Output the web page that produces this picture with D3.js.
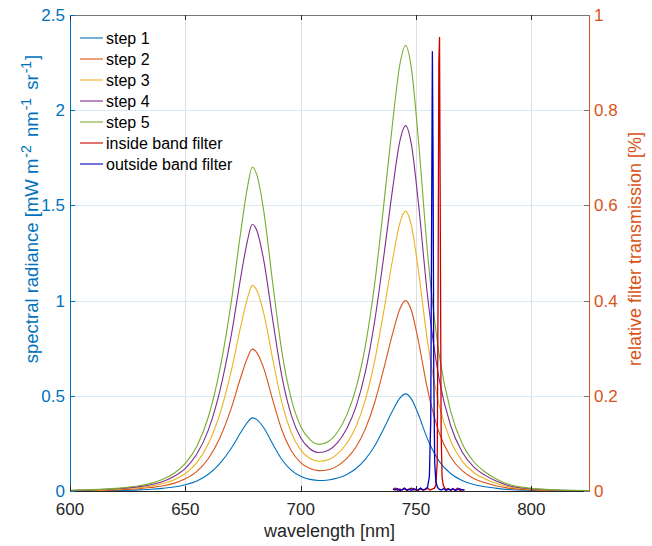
<!DOCTYPE html>
<html><head><meta charset="utf-8">
<script src="https://cdn.jsdelivr.net/npm/d3@7"></script>
<style>body{margin:0;background:#fff}svg{display:block}text{font-family:"Liberation Sans",Arial,Helvetica,sans-serif}</style>
</head><body><svg id="c" width="652" height="546"></svg>
<script>
const wavelength = [600,610,620,630,635,640,645,650,655,660,665,670,674,677,679,681,684,688,692,696,700,704,708,712,716,720,724,728,732,736,740,743,745.5,748,751,755,760,765,770,775,780,785,790,800,810,825];
const step1 = [0.001,0.002,0.003,0.006,0.009,0.014,0.021,0.033,0.053,0.088,0.145,0.226,0.307,0.362,0.384,0.375,0.332,0.244,0.163,0.108,0.077,0.061,0.055,0.058,0.068,0.087,0.118,0.166,0.235,0.327,0.425,0.488,0.510,0.484,0.403,0.273,0.157,0.092,0.055,0.034,0.022,0.014,0.008,0.003,0.001,0.000];
const step2 = [0.002,0.003,0.006,0.012,0.018,0.026,0.040,0.064,0.103,0.171,0.280,0.438,0.596,0.701,0.745,0.727,0.644,0.473,0.315,0.210,0.149,0.118,0.107,0.112,0.132,0.171,0.231,0.325,0.461,0.641,0.833,0.956,1.000,0.948,0.790,0.534,0.307,0.179,0.107,0.066,0.043,0.026,0.015,0.006,0.003,0.001];
const step3 = [0.003,0.004,0.009,0.018,0.025,0.038,0.058,0.092,0.149,0.248,0.406,0.635,0.864,1.016,1.080,1.054,0.933,0.686,0.457,0.305,0.216,0.171,0.156,0.164,0.195,0.251,0.339,0.477,0.678,0.942,1.225,1.407,1.470,1.394,1.162,0.785,0.452,0.264,0.157,0.097,0.063,0.039,0.022,0.009,0.004,0.001];
const step4 = [0.003,0.006,0.012,0.023,0.033,0.049,0.076,0.119,0.194,0.321,0.527,0.824,1.121,1.318,1.401,1.368,1.211,0.890,0.593,0.396,0.280,0.222,0.202,0.214,0.254,0.328,0.443,0.623,0.886,1.230,1.599,1.837,1.919,1.820,1.517,1.025,0.590,0.344,0.205,0.127,0.082,0.051,0.029,0.011,0.005,0.002];
const step5 = [0.004,0.007,0.014,0.028,0.040,0.060,0.092,0.145,0.235,0.390,0.640,1.000,1.360,1.600,1.700,1.660,1.470,1.080,0.720,0.480,0.340,0.270,0.245,0.260,0.310,0.400,0.540,0.760,1.080,1.500,1.950,2.240,2.340,2.220,1.850,1.250,0.720,0.420,0.250,0.155,0.100,0.062,0.035,0.014,0.006,0.002];
const insideWl = [740,741,742,743,744,745,746,747,748,749,750,751,752,753,754,755,756,757,758,758.6,759.2,759.6,759.9,760.2,760.5,760.9,761.3,761.8,762.5,763,764,765,766,767,768,769,770,771];
const insideT = [0.003,0.006,0.001,0.004,0.002,0.005,0.001,0.003,0.006,0.002,0.004,0.001,0.005,0.002,0.003,0.006,0.002,0.004,0.006,0.012,0.06,0.45,0.90,0.954,0.60,0.12,0.03,0.012,0.006,0.003,0.005,0.001,0.004,0.002,0.006,0.001,0.003,0.002];
const outsideWl = [740,741,742,743,744,745,746,747,748,749,750,751,752,753,754,755,755.8,756.4,756.8,757.1,757.4,757.7,758.1,758.6,759.3,760,761,762,763,764,765,766,767,768,769,770,771];
const outsideT = [0.004,0.002,0.005,0.001,0.003,0.006,0.002,0.004,0.001,0.005,0.002,0.003,0.006,0.002,0.004,0.008,0.03,0.15,0.60,0.924,0.70,0.25,0.06,0.02,0.008,0.004,0.002,0.005,0.001,0.004,0.002,0.005,0.001,0.003,0.005,0.002,0.003];
const seriesNames = ["step 1","step 2","step 3","step 4","step 5","inside band filter","outside band filter"];
const seriesColors = ["#0072BD","#D95319","#EDB120","#7E2F8E","#77AC30","#c80000","#0000c0"];
const xTicks = [600,650,700,750,800];
const yLeftTicks = [0,0.5,1,1.5,2,2.5];
const yRightTicks = [0,0.2,0.4,0.6,0.8,1];

const L=70,R=589,T=15,B=491;
const svg=d3.select("#c");
const x=d3.scaleLinear().domain([600,825]).range([L,R]);
const yL=d3.scaleLinear().domain([0,2.5]).range([B,T]);
const yR=d3.scaleLinear().domain([0,1]).range([B,T]);
const fs=17;

// grid
const g=svg.append("g");
xTicks.slice(1).forEach(v=>g.append("line").attr("x1",Math.round(x(v))+0.5).attr("x2",Math.round(x(v))+0.5).attr("y1",T).attr("y2",B).attr("stroke","#dfdfdf"));
yLeftTicks.slice(1,-1).forEach(v=>g.append("line").attr("x1",L).attr("x2",R).attr("y1",Math.round(yL(v))+0.5).attr("y2",Math.round(yL(v))+0.5).attr("stroke","#d9eaf5"));

// curves
const steps=[step1,step2,step3,step4,step5];
const lineL=d3.line().x(d=>x(d[0])).y(d=>yL(d[1])).curve(d3.curveMonotoneX);
steps.forEach((s,i)=>{
  svg.append("path").attr("d",lineL(wavelength.map((w,j)=>[w,s[j]]))).attr("fill","none").attr("stroke",seriesColors[i]).attr("stroke-width",1.1);
});
const lineR=d3.line().x(d=>x(d[0])).y(d=>yR(d[1]));
svg.append("path").attr("d",lineR(insideWl.map((w,j)=>[w,insideT[j]]))).attr("fill","none").attr("stroke",seriesColors[5]).attr("stroke-width",1.3);
svg.append("path").attr("d",lineR(outsideWl.map((w,j)=>[w,outsideT[j]]))).attr("fill","none").attr("stroke",seriesColors[6]).attr("stroke-width",1.3);

// axes frame
svg.append("line").attr("x1",L).attr("x2",R).attr("y1",T+0.5).attr("y2",T+0.5).attr("stroke","#777");
svg.append("line").attr("x1",L).attr("x2",R+0.5).attr("y1",B+0.5).attr("y2",B+0.5).attr("stroke","#262626");
svg.append("line").attr("x1",L+0.5).attr("x2",L+0.5).attr("y1",T).attr("y2",B+1).attr("stroke","#0072BD");
svg.append("line").attr("x1",R+0.5).attr("x2",R+0.5).attr("y1",T).attr("y2",B+1).attr("stroke","#D95319");

// ticks
xTicks.forEach(v=>{
  const px=Math.round(x(v))+0.5;
  svg.append("line").attr("x1",px).attr("x2",px).attr("y1",B).attr("y2",B-5).attr("stroke","#262626");
  svg.append("line").attr("x1",px).attr("x2",px).attr("y1",T).attr("y2",T+5).attr("stroke","#262626");
  svg.append("text").attr("x",x(v)).attr("y",515).attr("text-anchor","middle").attr("font-size",fs).attr("fill","#262626").text(v);
});
yLeftTicks.forEach(v=>{
  const py=Math.round(yL(v))+0.5;
  svg.append("line").attr("x1",L).attr("x2",L+5).attr("y1",py).attr("y2",py).attr("stroke","#0072BD");
  svg.append("text").attr("x",65).attr("y",yL(v)+6).attr("text-anchor","end").attr("font-size",fs).attr("fill","#0072BD").text(v);
});
yRightTicks.forEach(v=>{
  const py=Math.round(yR(v))+0.5;
  svg.append("line").attr("x1",R).attr("x2",R-5).attr("y1",py).attr("y2",py).attr("stroke","#777");
  svg.append("text").attr("x",594).attr("y",yR(v)+6).attr("text-anchor","start").attr("font-size",fs).attr("fill","#D95319").text(v);
});

// labels
svg.append("text").attr("x",(L+R)/2).attr("y",537).attr("text-anchor","middle").attr("font-size",18).attr("fill","#262626").text("wavelength [nm]");
const yl=svg.append("text").attr("transform","translate(38,209) rotate(-90)").attr("text-anchor","middle").attr("font-size",18.5).attr("fill","#0072BD");
const sup=(t)=>{yl.append("tspan").attr("dx",1).attr("dy",-7).attr("font-size",14).text(t);};
yl.append("tspan").text("spectral radiance [mW m");
sup("-2");
yl.append("tspan").attr("dx",3).attr("dy",7).text(" nm");
sup("-1");
yl.append("tspan").attr("dx",3).attr("dy",7).text(" sr");
sup("-1");
yl.append("tspan").attr("dx",1).attr("dy",7).text("]");
svg.append("text").attr("transform","translate(641,249) rotate(-90)").attr("text-anchor","middle").attr("font-size",18).attr("fill","#D95319").text("relative filter transmission [%]");

// legend
seriesNames.forEach((n,i)=>{
  const yy=38+21*i;
  svg.append("line").attr("x1",80).attr("x2",103).attr("y1",yy).attr("y2",yy).attr("stroke",seriesColors[i]).attr("stroke-width",1.1);
  svg.append("text").attr("x",106).attr("y",yy+5.5).attr("font-size",16).attr("fill","#000").text(n);
});
</script></body></html>
